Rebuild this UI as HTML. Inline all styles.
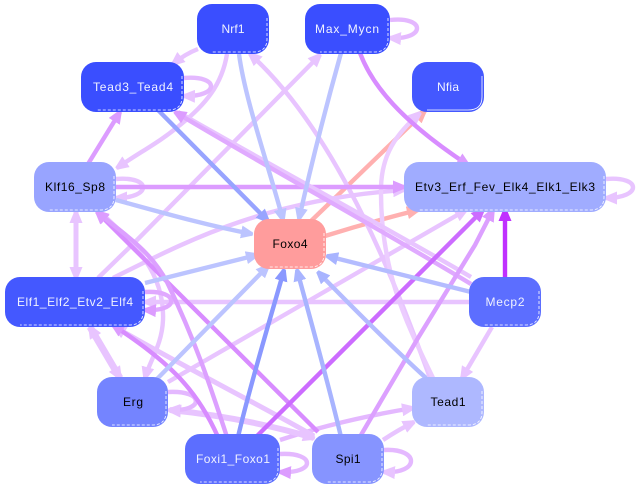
<!DOCTYPE html>
<html><head><meta charset="utf-8"><style>
html,body{margin:0;padding:0;background:#fff}
svg{display:block}
path.e{fill:none;stroke-width:4.4}
text{font-family:"Liberation Sans",sans-serif;font-size:12px;text-anchor:middle}
.w{fill:#f0f2ff}.k{fill:#000}
.o{fill:none;stroke:#fff;stroke-width:.8}
</style></head><body>
<svg width="636" height="489" viewBox="0 0 636 489" xmlns="http://www.w3.org/2000/svg">
<defs>
<marker id="a" markerUnits="userSpaceOnUse" markerWidth="12" markerHeight="13" refX="11" refY="6.5" orient="auto-start-reverse"><path d="M0 0L12 5L12 8L0 13Z" fill="#e8c4ff"/></marker>
<marker id="b" markerUnits="userSpaceOnUse" markerWidth="12" markerHeight="13" refX="11" refY="6.5" orient="auto-start-reverse"><path d="M0 0L12 5L12 8L0 13Z" fill="#dc9cff"/></marker>
<marker id="c" markerUnits="userSpaceOnUse" markerWidth="12" markerHeight="13" refX="11" refY="6.5" orient="auto-start-reverse"><path d="M0 0L12 5L12 8L0 13Z" fill="#cc6cff"/></marker>
<marker id="d" markerUnits="userSpaceOnUse" markerWidth="12" markerHeight="13" refX="11" refY="6.5" orient="auto-start-reverse"><path d="M0 0L12 5L12 8L0 13Z" fill="#c030ff"/></marker>
<marker id="e" markerUnits="userSpaceOnUse" markerWidth="12" markerHeight="13" refX="11" refY="6.5" orient="auto-start-reverse"><path d="M0 0L12 5L12 8L0 13Z" fill="#bcc4ff"/></marker>
<marker id="f" markerUnits="userSpaceOnUse" markerWidth="12" markerHeight="13" refX="11" refY="6.5" orient="auto-start-reverse"><path d="M0 0L12 5L12 8L0 13Z" fill="#98a4ff"/></marker>
<marker id="g" markerUnits="userSpaceOnUse" markerWidth="12" markerHeight="13" refX="11" refY="6.5" orient="auto-start-reverse"><path d="M0 0L12 5L12 8L0 13Z" fill="#8a98ff"/></marker>
<marker id="h" markerUnits="userSpaceOnUse" markerWidth="12" markerHeight="13" refX="11" refY="6.5" orient="auto-start-reverse"><path d="M0 0L12 5L12 8L0 13Z" fill="#a8b4ff"/></marker>
<marker id="i" markerUnits="userSpaceOnUse" markerWidth="12" markerHeight="13" refX="11" refY="6.5" orient="auto-start-reverse"><path d="M0 0L12 5L12 8L0 13Z" fill="#ffb0b0"/></marker>
</defs>
<rect width="636" height="489" fill="#fff"/>

<!-- salmon -->
<path class="e" stroke="#ffb0b0" marker-end="url(#i)" d="M310 222L425 111"/>
<path class="e" stroke="#ffb0b0" marker-end="url(#i)" d="M325 236Q370 222 418 210"/>

<!-- pale purple -->
<path class="e" stroke="#e8c4ff" marker-end="url(#a)" d="M198 49Q185 54 173 64"/>
<path class="e" stroke="#e8c4ff" marker-end="url(#a)" d="M227 54C222 85 205 105 180 125C160 142 140 152 117 168"/>
<path class="e" stroke="#e8c4ff" marker-end="url(#a)" d="M98 278L137 240L320 55"/>
<path class="e" stroke="#e8c4ff" marker-end="url(#a)" d="M113 278C180 245 260 200 404 190"/>
<path class="e" stroke="#e8c4ff" marker-end="url(#a)" d="M168 382L466 210"/>
<path class="e" stroke="#e8c4ff" marker-end="url(#a)" d="M430 378C405 310 345 140 250 54"/>
<path class="e" stroke="#ecccff" marker-end="url(#a)" d="M433 378C405 320 380 270 381 187C382 155 395 135 420 113"/>
<path class="e" stroke="#e8c4ff" marker-end="url(#a)" d="M100 212C130 240 165 270 163 320C162 345 150 360 145 378"/>
<path class="e" stroke="#e8c4ff" style="stroke-width:5" marker-end="url(#a)" marker-start="url(#a)" d="M76 212V278"/>
<path class="e" stroke="#e8c4ff" style="stroke-width:7" marker-end="url(#a)" marker-start="url(#a)" d="M90 327L120 378"/>
<path class="e" stroke="#e8c4ff" marker-end="url(#a)" d="M469 302H145"/>
<path class="e" stroke="#e8c4ff" marker-end="url(#a)" d="M492 327L462 378"/>
<path class="e" stroke="#e8c4ff" marker-end="url(#a)" d="M116 179C152 176 152 198 116 198"/>
<path class="e" stroke="#e8c4ff" marker-end="url(#a)" d="M606 179C642 176 642 198 606 198"/>
<path class="e" stroke="#e8c4ff" marker-end="url(#a)" d="M383 440Q398 430 414 422"/>
<path class="e" stroke="#e4b8ff" marker-end="url(#a)" d="M280 440Q340 420 413 408"/>
<path class="e" stroke="#e8c4ff" style="stroke-width:6" marker-end="url(#a)" marker-start="url(#a)" d="M170 410C220 415 270 425 314 438"/>
<path class="e" stroke="#e8c4ff" style="stroke-width:5" marker-start="url(#a)" d="M115 327C180 365 260 405 314 436"/>

<!-- loops mid purple -->
<path class="e" stroke="#e4b8ff" marker-end="url(#a)" d="M184 78C220 75 220 97 184 96"/>
<path class="e" stroke="#e4b8ff" marker-end="url(#a)" d="M390 20C426 16 426 40 390 38"/>
<path class="e" stroke="#e0a8ff" marker-end="url(#b)" d="M145 292C180 290 180 312 145 310"/>
<path class="e" stroke="#e4b8ff" marker-end="url(#a)" d="M168 392C205 390 205 412 169 410"/>
<path class="e" stroke="#e4b8ff" marker-end="url(#b)" d="M280 454C316 452 316 474 280 472"/>
<path class="e" stroke="#e4b8ff" marker-end="url(#a)" d="M384 450C420 448 420 474 384 472"/>

<!-- mid purple -->
<path class="e" stroke="#dc9cff" marker-end="url(#b)" d="M88 164L120 112"/>
<path class="e" stroke="#dc9cff" marker-end="url(#b)" d="M116 187H404"/>
<path class="e" stroke="#d88cff" marker-end="url(#b)" d="M360 53C372 85 400 120 468 165"/>
<path class="e" stroke="#e8c4ff" d="M471 277C380 224 270 165 178 112"/>
<path class="e" stroke="#e0aaff" marker-end="url(#b)" d="M471 284C380 229 270 169 175 112"/>
<path class="e" stroke="#d88cff" marker-end="url(#b)" d="M318 432L97 212"/>
<path class="e" stroke="#dca0ff" marker-end="url(#b)" d="M227 437C210 385 195 340 167 282C150 250 125 235 97 212"/>
<path class="e" stroke="#d88cff" marker-end="url(#b)" d="M218 437C195 385 165 360 113 325"/>
<path class="e" stroke="#dca0ff" marker-end="url(#b)" d="M361 435L418 338L475 245L493 210"/>

<!-- strong -->
<path class="e" stroke="#cc6cff" marker-end="url(#c)" d="M257 436L483 210"/>
<path class="e" stroke="#c030ff" marker-end="url(#d)" d="M505 277V210"/>

<!-- blue -->
<path class="e" stroke="#bcc4ff" marker-end="url(#e)" d="M239 54C245 100 270 170 283 220"/>
<path class="e" stroke="#bcc4ff" marker-end="url(#e)" d="M341 53C325 110 310 170 299 219"/>
<path class="e" stroke="#98a4ff" marker-end="url(#f)" d="M157 109L268 221"/>
<path class="e" stroke="#bcc4ff" marker-end="url(#e)" d="M116 200C160 212 205 225 252 234"/>
<path class="e" stroke="#bcc4ff" marker-end="url(#e)" d="M145 283L257 255"/>
<path class="e" stroke="#bcc4ff" marker-end="url(#e)" d="M157 379L268 266"/>
<path class="e" stroke="#8a98ff" marker-end="url(#g)" d="M238 437C250 385 270 320 284 270"/>
<path class="e" stroke="#a8b4ff" marker-end="url(#h)" d="M341 437C330 390 312 325 297 270"/>
<path class="e" stroke="#b4bcff" marker-end="url(#h)" d="M426 378C390 345 355 310 318 272"/>
<path class="e" stroke="#b4bcff" marker-end="url(#h)" d="M471 292L327 256"/>

<!-- nodes -->
<g>
<rect x="197" y="4" width="72" height="50" rx="15" fill="#3a4eff"/>
<path class="o" stroke-dasharray="3 2" d="M267 18V39Q267 52 253 52H212"/>
<text class="w" x="233" y="33" textLength="23" lengthAdjust="spacing">Nrf1</text>

<rect x="305" y="4" width="85" height="50" rx="15" fill="#3a4eff"/>
<path class="o" stroke-dasharray="3 2" d="M388 18V39Q388 52 374 52H320"/>
<text class="w" x="347" y="33" textLength="64" lengthAdjust="spacing">Max_Mycn</text>

<rect x="81" y="62" width="103" height="50" rx="15" fill="#3a4eff"/>
<path class="o" stroke-dasharray="3 2" d="M182 76V97Q182 110 168 110H96"/>
<text class="w" x="133" y="91" textLength="80" lengthAdjust="spacing">Tead3_Tead4</text>

<rect x="412" y="62" width="72" height="50" rx="15" fill="#4458ff"/>
<path class="o" d="M482 76V97Q482 110 468 110H427"/>
<text class="w" x="448" y="91" textLength="22" lengthAdjust="spacing">Nfia</text>

<rect x="34" y="162" width="82" height="50" rx="15" fill="#98a4ff"/>
<path class="o" stroke-dasharray="3 2" d="M114 176V197Q114 210 100 210H49"/>
<text class="k" x="75" y="191" textLength="60" lengthAdjust="spacing">Klf16_Sp8</text>

<rect x="404" y="162" width="202" height="50" rx="15" fill="#a0acff"/>
<path class="o" stroke-dasharray="3 2" d="M604 176V197Q604 210 590 210H419"/>
<text class="k" x="505" y="191" textLength="180" lengthAdjust="spacing">Etv3_Erf_Fev_Elk4_Elk1_Elk3</text>

<rect x="254" y="219" width="72" height="50" rx="15" fill="#ff9c9c"/>
<path class="o" stroke-dasharray="3 2" d="M324 233V254Q324 267 310 267H269"/>
<text class="k" x="290" y="248" textLength="35" lengthAdjust="spacing">Foxo4</text>

<rect x="5" y="277" width="140" height="50" rx="15" fill="#4458ff"/>
<path class="o" stroke-dasharray="3 2" d="M143 291V312Q143 325 129 325H20"/>
<text class="w" x="75" y="306" textLength="116" lengthAdjust="spacing">Elf1_Elf2_Etv2_Elf4</text>

<rect x="469" y="277" width="72" height="50" rx="15" fill="#5c6eff"/>
<path class="o" stroke-dasharray="3 2" d="M539 291V312Q539 325 525 325H484"/>
<text class="w" x="505" y="306" textLength="39" lengthAdjust="spacing">Mecp2</text>

<rect x="97" y="377" width="71" height="50" rx="15" fill="#7484ff"/>
<path class="o" stroke-dasharray="3 2" d="M166 391V412Q166 425 152 425H112"/>
<text class="k" x="133" y="406" textLength="20" lengthAdjust="spacing">Erg</text>

<rect x="412" y="377" width="72" height="50" rx="15" fill="#aeb8ff"/>
<path class="o" stroke-dasharray="3 2" d="M482 391V412Q482 425 468 425H427"/>
<text class="k" x="448" y="406" textLength="35" lengthAdjust="spacing">Tead1</text>

<rect x="185" y="434" width="95" height="50" rx="15" fill="#5c6eff"/>
<path class="o" stroke-dasharray="3 2" d="M278 448V469Q278 482 264 482H200"/>
<text class="w" x="233" y="463" textLength="74" lengthAdjust="spacing">Foxi1_Foxo1</text>

<rect x="312" y="434" width="72" height="50" rx="15" fill="#8694ff"/>
<path class="o" stroke-dasharray="3 2" d="M382 448V469Q382 482 368 482H327"/>
<text class="k" x="348" y="463" textLength="25" lengthAdjust="spacing">Spi1</text>
</g>
</svg>
</body></html>
